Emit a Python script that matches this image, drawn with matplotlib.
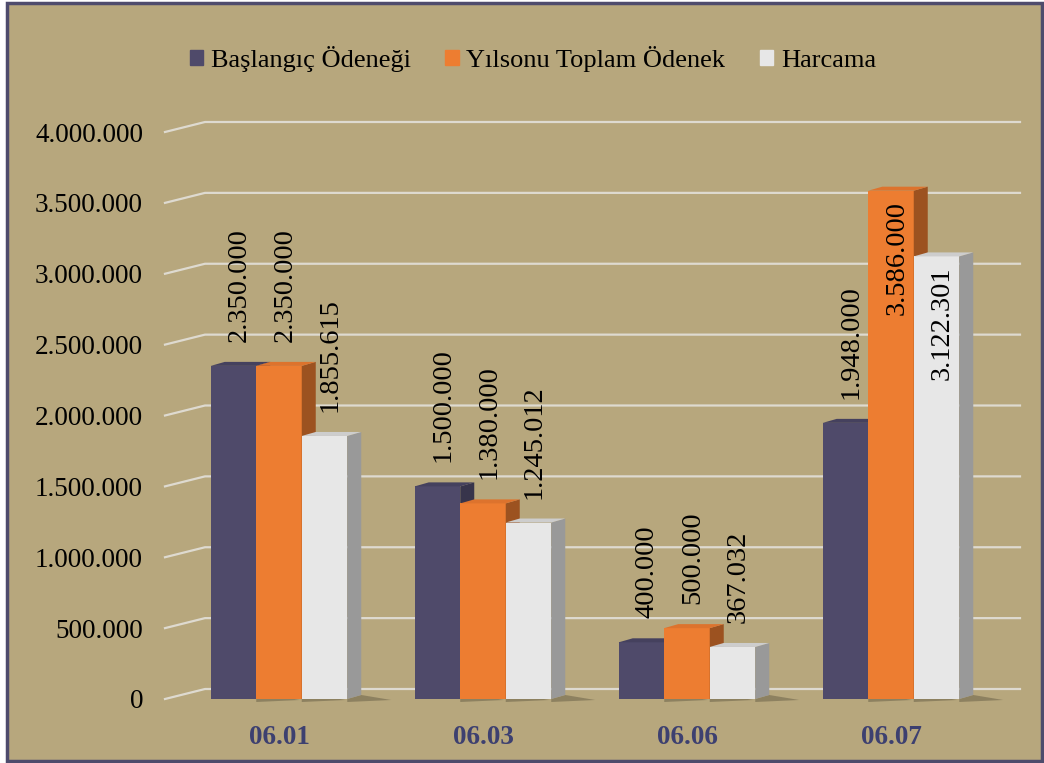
import matplotlib.pyplot as plt
from matplotlib.patches import Patch, Rectangle
import numpy as np

plt.rcParams['font.family'] = ['Liberation Serif', 'DejaVu Serif']

# data
categories = ['06.01', '06.03', '06.06', '06.07']
series_names = ['Başlangıç Ödeneği', 'Yılsonu Toplam Ödenek', 'Harcama']
baslangic = [2350000, 1500000, 400000, 1948000]
yilsonu = [2350000, 1380000, 500000, 3586000]
harcama = [1855615, 1245012, 367032, 3122301]
y_ticks = [0, 500000, 1000000, 1500000, 2000000, 2500000, 3000000, 3500000, 4000000]

front_colors = ['#4F4A6A', '#ED7D31', '#E7E7E7']
side_colors = ['#37344B', '#9C5220', '#999999']
top_colors = ['#45415E', '#DD732D', '#CDCDCD']
bg_color = '#B7A77D'
grid_color = '#DEDAD0'


def fmt(v):
    return f'{v:,}'.replace(',', '.')


W, H = 1044, 763
fig = plt.figure(figsize=(W / 100, H / 100), dpi=100, facecolor='white')
fig.patches.append(Rectangle((7 / W, 2 / H), 1035 / W, 758 / H, transform=fig.transFigure,
                             facecolor=bg_color, edgecolor='#4E4B6C', lw=2.5, zorder=-1))

# plot area: front baseline at y=699px, 4.000.000 at y=132px
ax = fig.add_axes([165 / W, (H - 699) / H, (1020 - 165) / W, 567 / H])
ax.set_facecolor('none')
spacing = 204.0
x0, x1 = (165 - 279) / spacing, (1020 - 279) / spacing
ax.set_xlim(x0, x1)
ax.set_ylim(0, 4000000)
for s in ax.spines.values():
    s.set_visible(False)

px_x = 1 / spacing
px_y = 4000000 / 567

# gridlines with a little perspective
for v in y_ticks:
    ax.plot([x0, x0 + 40 * px_x, x1], [v, v + 10 * px_y, v + 10 * px_y],
            color=grid_color, lw=1.6, clip_on=False, zorder=1)

x = np.arange(len(categories))
w = 45.5 / spacing
dx, dy = 14 * px_x, 4 * px_y

for i, vals in enumerate([baslangic, yilsonu, harcama]):
    xs = x + (i - 1) * w
    z = 3 + i
    ax.bar(xs, vals, w, color=front_colors[i], zorder=z, clip_on=False)
    for xc, v in zip(xs, vals):
        xl, xr = xc - w / 2, xc + w / 2
        # shadow on the floor
        ax.fill([xr, xr + dx, xr + dx + 30 * px_x, xr], [0, dy, -1 * px_y, -3 * px_y],
                color='#2E2A1E', alpha=0.3, lw=0, zorder=2, clip_on=False)
        ax.fill([xr, xr + dx, xr + dx, xr], [0, dy, v + dy, v],
                color=side_colors[i], lw=0, zorder=z, clip_on=False)
        ax.fill([xl, xl + dx, xr + dx, xr], [v, v + dy, v + dy, v],
                color=top_colors[i], lw=0, zorder=z, clip_on=False)
        # value labels, inside the bar when they would leave the plot
        if v + 136 * px_y > 4000000:
            ax.annotate(fmt(v), xy=(xc, v), xytext=(6, -10), textcoords='offset pixels',
                        rotation=90, ha='center', va='top', fontsize=20.5, zorder=10)
        else:
            ax.annotate(fmt(v), xy=(xc, v), xytext=(6, 24), textcoords='offset pixels',
                        rotation=90, ha='center', va='bottom', fontsize=20.5, zorder=10)

ax.set_yticks(y_ticks, [fmt(v) for v in y_ticks])
ax.tick_params(axis='y', length=0, pad=15.8, labelsize=19.5, labelcolor='black')
ax.set_xticks(x, categories)
ax.tick_params(axis='x', length=0, pad=19, labelsize=19.5, labelcolor='#3D4070')
for t in ax.get_xticklabels():
    t.set_fontweight('bold')

handles = [Patch(color=c, label=n) for c, n in zip(front_colors, series_names)]
fig.legend(handles=handles, loc='center', bbox_to_anchor=(533 / W, 1 - 59 / H), ncol=3,
           frameon=False, fontsize=19, handlelength=0.5, handleheight=0.5,
           handletextpad=0.3, columnspacing=1.3)

plt.savefig('out.png', dpi=100, facecolor='white')
plt.close()
